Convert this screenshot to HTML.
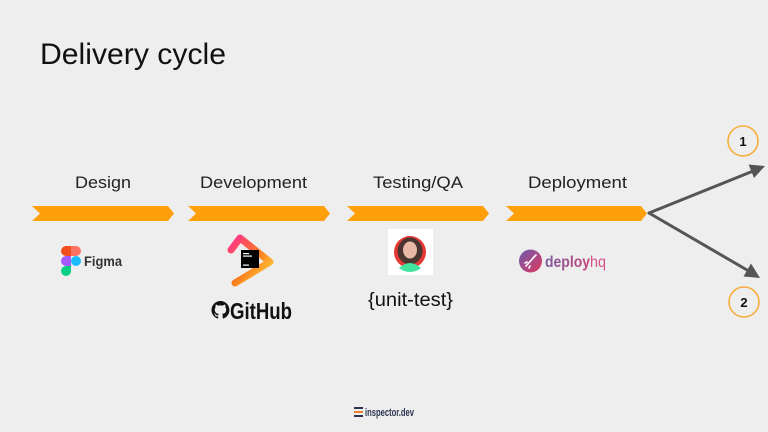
<!DOCTYPE html>
<html>
<head>
<meta charset="utf-8">
<style>
  html,body{margin:0;padding:0;background:#eeeeee;}
  body{width:768px;height:432px;overflow:hidden;}
  svg{display:block;}
  text{font-family:"Liberation Sans",Arial,sans-serif;}
</style>
</head>
<body>
<svg width="768" height="432" viewBox="0 0 768 432" xmlns="http://www.w3.org/2000/svg">
  <defs>
    <linearGradient id="jb" x1="0" y1="0" x2="1" y2="1">
      <stop offset="0" stop-color="#ff318c"/>
      <stop offset="0.55" stop-color="#fc801d"/>
      <stop offset="1" stop-color="#fde047"/>
    </linearGradient>
    <linearGradient id="dq" x1="0" y1="0" x2="1" y2="1">
      <stop offset="0" stop-color="#6a5bb0"/>
      <stop offset="1" stop-color="#e2385f"/>
    </linearGradient>
    <linearGradient id="dqt" x1="0" y1="0" x2="1" y2="0">
      <stop offset="0" stop-color="#7a5a9e"/>
      <stop offset="1" stop-color="#c8467c"/>
    </linearGradient>
  </defs>
  <rect width="768" height="432" fill="#eeeeee"/>

  <!-- Title -->
  <text x="40" y="64" font-size="30" fill="#111" textLength="186" lengthAdjust="spacingAndGlyphs">Delivery cycle</text>

  <!-- Stage labels -->
  <text x="75" y="188" font-size="17" fill="#222" textLength="56" lengthAdjust="spacingAndGlyphs">Design</text>
  <text x="200" y="188" font-size="17" fill="#222" textLength="107" lengthAdjust="spacingAndGlyphs">Development</text>
  <text x="373" y="188" font-size="17" fill="#222" textLength="90" lengthAdjust="spacingAndGlyphs">Testing/QA</text>
  <text x="528" y="188" font-size="17" fill="#222" textLength="99" lengthAdjust="spacingAndGlyphs">Deployment</text>

  <!-- Chevrons -->
  <g fill="#ff9f0a">
    <polygon points="32,206 168,206 174,213.5 168,221 32,221 40,213.5"/>
    <polygon points="188,206 324,206 330,213.5 324,221 188,221 196,213.5"/>
    <polygon points="347,206 483,206 489,213.5 483,221 347,221 355,213.5"/>
    <polygon points="506,206 641,206 647,213.5 641,221 506,221 514,213.5"/>
  </g>

  <!-- Branch arrows -->
  <g stroke="#555" stroke-width="3" fill="none" stroke-linecap="round">
    <line x1="649" y1="213" x2="752" y2="171.5"/>
    <line x1="649" y1="213" x2="747" y2="270"/>
  </g>
  <g fill="#555">
    <polygon points="765,166 748.6,164.5 754,178"/>
    <polygon points="760,278 751,263.5 743.5,276.5"/>
  </g>

  <!-- Numbered circles -->
  <circle cx="743" cy="141" r="15" fill="none" stroke="#f7ae3e" stroke-width="1.6"/>
  <text x="743" y="146" font-size="13" font-weight="bold" fill="#111" text-anchor="middle">1</text>
  <circle cx="744" cy="302" r="15" fill="none" stroke="#f7ae3e" stroke-width="1.6"/>
  <text x="744" y="307" font-size="13" font-weight="bold" fill="#111" text-anchor="middle">2</text>

  <!-- Figma logo -->
  <path d="M66,246 H71 V256 H66 A5,5 0 0 1 66,246 Z" fill="#f24e1e"/>
  <path d="M71,246 H76 A5,5 0 0 1 76,256 H71 Z" fill="#ff7262"/>
  <path d="M66,256 H71 V266 H66 A5,5 0 0 1 66,256 Z" fill="#a259ff"/>
  <circle cx="76" cy="261" r="5" fill="#1abcfe"/>
  <path d="M66,266 H71 V271 A5,5 0 1 1 66,266 Z" fill="#0acf83"/>
  <text x="84" y="266" font-size="13.5" font-weight="bold" fill="#333" textLength="38" lengthAdjust="spacingAndGlyphs">Figma</text>

  <!-- JetBrains logo -->
  <path d="M231,250 L240,238 L270,262 L235,283" fill="none" stroke="url(#jb)" stroke-width="7" stroke-linejoin="round" stroke-linecap="round"/>
  <rect x="241" y="250" width="18" height="18" fill="#000"/>
  <rect x="243" y="253" width="6" height="1.2" fill="#fff"/>
  <rect x="243" y="255.5" width="9" height="1.2" fill="#fff"/>
  <rect x="243" y="264.5" width="6" height="1.2" fill="#fff"/>

  <!-- GitHub -->
  <g transform="translate(211.5,301) scale(1.12)">
    <path fill="#111" d="M8 0C3.58 0 0 3.58 0 8c0 3.54 2.29 6.53 5.47 7.590.4.07.55-.17.55-.38 0-.19-.01-.82-.01-1.49-2.01.37-2.53-.49-2.69-.94-.09-.23-.48-.94-.82-1.13-.28-.15-.68-.52-.01-.53.63-.01 1.08.58 1.23.82.72 1.21 1.87.87 2.33.66.07-.52.28-.87.51-1.07-1.78-.2-3.64-.89-3.64-3.95 0-.87.31-1.59.82-2.15-.08-.2-.36-1.02.08-2.12 0 0 .67-.21 2.2.82.64-.18 1.32-.27 2-.27.68 0 1.36.09 2 .27 1.53-1.04 2.2-.82 2.2-.82.44 1.1.16 1.92.08 2.12.51.56.82 1.27.82 2.15 0 3.07-1.87 3.75-3.65 3.95.29.25.54.73.54 1.48 0 1.07-.01 1.93-.01 2.2 0 .21.15.46.55.38A8.013 8.013 0 0016 8c0-4.42-3.58-8-8-8z"/>
  </g>
  <text x="230" y="319" font-size="23" font-weight="bold" fill="#111" textLength="62" lengthAdjust="spacingAndGlyphs">GitHub</text>

  <!-- Avatar -->
  <rect x="388" y="229" width="45" height="46" fill="#ffffff"/>
  <circle cx="410" cy="252" r="16" fill="#e53935"/>
  <ellipse cx="410" cy="251" rx="12.5" ry="13.5" fill="#4a3530"/>
  <ellipse cx="410" cy="250" rx="7" ry="8.5" fill="#e9b9a6"/>
  <path d="M399,268 Q410,258 421,268 Q416,272 410,272 Q404,272 399,268 Z" fill="#43e3a0"/>

  <text x="368" y="306" font-size="19" fill="#111" textLength="85" lengthAdjust="spacingAndGlyphs">{unit-test}</text>

  <!-- deployhq -->
  <circle cx="530.5" cy="261" r="11.5" fill="url(#dq)"/>
  <path d="M526,266 L535,256 M533,258 L536,255 M527,262 L525,263 M530,266 L529,268" stroke="#fff" stroke-width="1.6" stroke-linecap="round"/>
  <text x="545" y="267" font-size="16" font-weight="bold" fill="url(#dqt)" textLength="45" lengthAdjust="spacingAndGlyphs">deploy</text>
  <text x="590" y="267" font-size="16" fill="#d6518a" textLength="16" lengthAdjust="spacingAndGlyphs">hq</text>

  <!-- inspector.dev -->
  <rect x="354" y="407" width="9" height="2" fill="#2b3550"/>
  <rect x="354" y="411" width="9" height="2" fill="#f07d2a"/>
  <rect x="354" y="415" width="9" height="2" fill="#2b3550"/>
  <text x="365" y="416" font-size="11" font-weight="bold" fill="#2b3550" textLength="49" lengthAdjust="spacingAndGlyphs">inspector.dev</text>
</svg>
</body>
</html>
